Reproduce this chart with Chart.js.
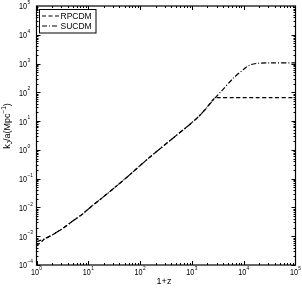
<!DOCTYPE html>
<html>
<head>
<meta charset="utf-8">
<script src="https://cdn.jsdelivr.net/npm/chart.js@4.4.1/dist/chart.umd.min.js"></script>
<style>
  html, body { margin: 0; padding: 0; background: #fff; }
  canvas { display: block; }
</style>
</head>
<body>
<canvas id="chart" width="302" height="288"></canvas>
<script>
// values (1+z on x, k_J/a in Mpc^-1 on y)
const onePlusZ = [1, 1.2, 1.41, 2, 2.5, 3.4, 5, 7.6, 11.7, 17, 50, 145, 400, 1150, 1780, 2750, 3550, 6300, 10000, 13200, 18600, 31600, 100000];
const rpcdm = [4.7e-4, 6.0e-4, 7.8e-4, 1.1e-3, 1.41e-3, 2.0e-3, 3.4e-3, 5.75e-3, 1.12e-2, 1.9e-2, 9.5e-2, 0.51, 2.3, 11, 24.5, 62, 65, 65, 65, 65, 65, 65, 65];
const sucdm = [6.5e-4, 7.2e-4, 8.1e-4, 1.1e-3, 1.41e-3, 2.0e-3, 3.4e-3, 5.75e-3, 1.12e-2, 1.9e-2, 9.5e-2, 0.51, 2.3, 11, 24.5, 62, 100, 310, 630, 890, 1020, 1050, 1050];
const seriesNames = ["RPCDM", "SUCDM"];
const seriesDash = [[4, 2.5], [5, 2, 1, 2]];
const xDecades = [0, 1, 2, 3, 4, 5];
const yDecades = [-4, -3, -2, -1, 0, 1, 2, 3, 4, 5];

const FONT = '"Liberation Sans", Arial, sans-serif';

function pts(ys) {
  return onePlusZ.map((x, i) => ({ x: x, y: ys[i] }));
}

// draws "10" with a raised exponent, anchored by left edge
function drawPow(ctx, x, y, exp, size) {
  ctx.save();
  ctx.translate(x, y);
  ctx.scale(0.8, 1);
  ctx.font = size + "px " + FONT;
  ctx.textBaseline = "middle";
  ctx.textAlign = "left";
  ctx.fillText("10", 0, 0);
  const w = ctx.measureText("10").width;
  ctx.font = Math.round(size * 0.68) + "px " + FONT;
  ctx.fillText(String(exp).replace("-", "\u2212"), w + 0.5, -size * 0.5);
  ctx.restore();
}

function powWidth(ctx, exp, size) {
  ctx.font = size + "px " + FONT;
  const a = ctx.measureText("10").width;
  ctx.font = Math.round(size * 0.68) + "px " + FONT;
  const b = ctx.measureText(String(exp).replace("-", "\u2212")).width;
  return (a + 0.5 + b) * 0.8;
}

const decorations = {
  id: "decorations",
  afterDraw(chart) {
    const ctx = chart.ctx;
    const xs = chart.scales.x, ys = chart.scales.y;
    const a = chart.chartArea;
    ctx.save();
    ctx.strokeStyle = "#000";
    ctx.fillStyle = "#000";

    // frame
    ctx.lineWidth = 1.2;
    ctx.setLineDash([]);
    ctx.strokeRect(a.left, a.top, a.right - a.left, a.bottom - a.top);

    // ticks pointing inward on all four sides
    ctx.lineWidth = 1;
    ctx.beginPath();
    for (let d = 0; d < 5; d++) {
      for (let m = 1; m < 10; m++) {
        const px = Math.round(xs.getPixelForValue(m * Math.pow(10, d))) + 0.5;
        const len = m === 1 ? 4 : 2;
        ctx.moveTo(px, a.bottom); ctx.lineTo(px, a.bottom - len);
        ctx.moveTo(px, a.top); ctx.lineTo(px, a.top + len);
      }
    }
    for (let d = -4; d < 5; d++) {
      for (let m = 1; m < 10; m++) {
        const py = Math.round(ys.getPixelForValue(m * Math.pow(10, d))) + 0.5;
        const len = m === 1 ? 4 : 2;
        ctx.moveTo(a.left, py); ctx.lineTo(a.left + len, py);
        ctx.moveTo(a.right, py); ctx.lineTo(a.right - len, py);
      }
    }
    ctx.stroke();

    // tick labels
    const size = 9;
    xDecades.forEach(e => {
      const px = xs.getPixelForValue(Math.pow(10, e));
      drawPow(ctx, px - powWidth(ctx, e, size) / 2, 273, e, size);
    });
    yDecades.forEach(e => {
      const py = ys.getPixelForValue(Math.pow(10, e));
      drawPow(ctx, 19, py + 1, e, size);
    });

    // axis titles
    ctx.font = "9px " + FONT;
    ctx.textAlign = "center";
    ctx.textBaseline = "middle";
    ctx.fillText("1+z", 164, 282);

    ctx.save();
    ctx.translate(8, 126);
    ctx.rotate(-Math.PI / 2);
    ctx.textAlign = "left";
    const parts = [["k", 9, 0], ["J", 6.5, 2.5], ["/a(Mpc", 9, 0], ["\u22121", 6.5, -3.5], [")", 9, 0]];
    let total = 0;
    parts.forEach(p => { ctx.font = p[1] + "px " + FONT; total += ctx.measureText(p[0]).width; });
    let cx = -total / 2;
    parts.forEach(p => {
      ctx.font = p[1] + "px " + FONT;
      ctx.fillText(p[0], cx, p[2]);
      cx += ctx.measureText(p[0]).width;
    });
    ctx.restore();

    // legend box
    ctx.fillStyle = "#fff";
    ctx.fillRect(39.5, 9.5, 56.5, 23.5);
    ctx.lineWidth = 1;
    ctx.strokeRect(39.5, 9.5, 56.5, 23.5);
    ctx.fillStyle = "#000";
    ctx.font = "8.5px " + FONT;
    ctx.textAlign = "left";
    ctx.textBaseline = "middle";
    seriesNames.forEach((name, i) => {
      const y = 16 + i * 10;
      ctx.beginPath();
      ctx.setLineDash(seriesDash[i]);
      ctx.lineWidth = 1.2;
      ctx.moveTo(42, y); ctx.lineTo(59, y);
      ctx.stroke();
      ctx.setLineDash([]);
      ctx.fillText(name, 60.5, y + 0.5);
    });
    ctx.restore();
  }
};

new Chart(document.getElementById("chart"), {
  type: "line",
  data: {
    datasets: [
      { label: seriesNames[0], data: pts(rpcdm), borderColor: "#000", borderWidth: 1.2, borderDash: seriesDash[0], pointRadius: 0, tension: 0.3, fill: false },
      { label: seriesNames[1], data: pts(sucdm), borderColor: "#000", borderWidth: 1.2, borderDash: seriesDash[1], pointRadius: 0, tension: 0.3, fill: false }
    ]
  },
  options: {
    responsive: false,
    animation: false,
    events: [],
    layout: { padding: { left: 36.5, top: 6, right: 6.5, bottom: 23 } },
    plugins: { legend: { display: false }, tooltip: { enabled: false } },
    scales: {
      x: {
        type: "logarithmic", min: 1, max: 100000,
        grid: { display: false }, border: { display: false },
        ticks: { display: false },
        afterFit(scale) { scale.height = 0; }
      },
      y: {
        type: "logarithmic", min: 1e-4, max: 1e5,
        grid: { display: false }, border: { display: false },
        ticks: { display: false },
        afterFit(scale) { scale.width = 0; }
      }
    }
  },
  plugins: [decorations]
});
</script>
</body>
</html>
